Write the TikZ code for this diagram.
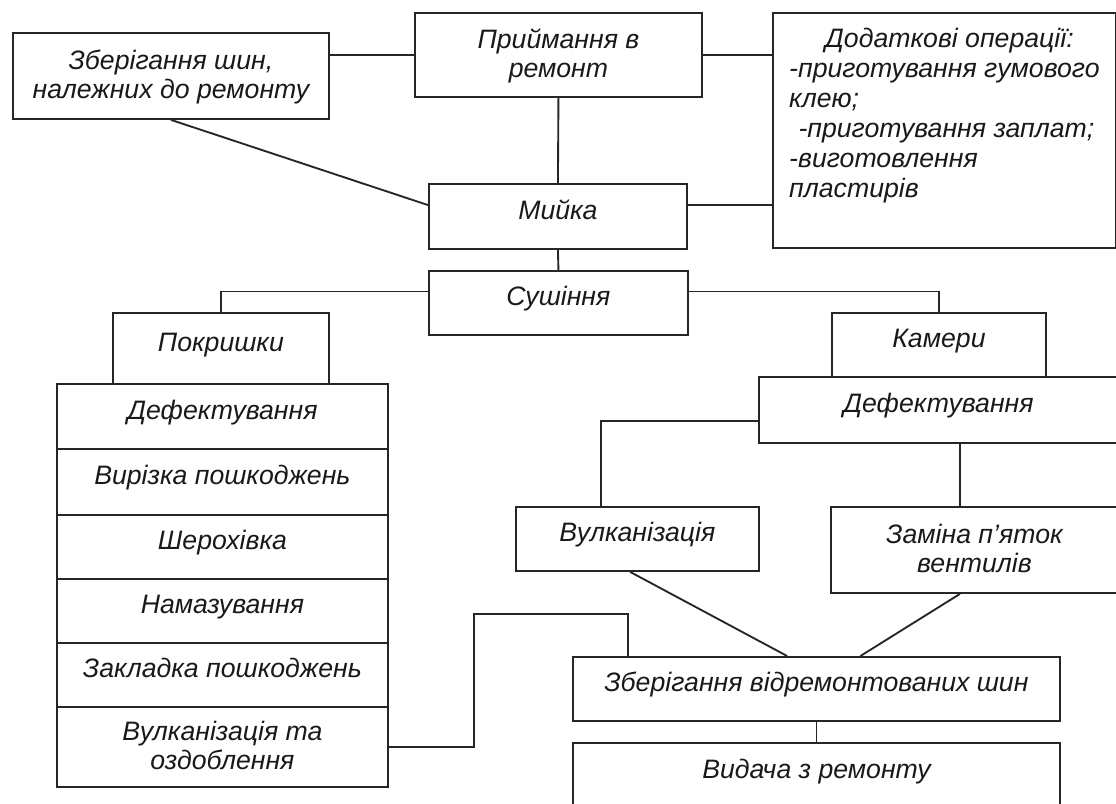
\documentclass[tikz,border=0pt]{standalone}
\usepackage{fontspec}
\setmainfont{Liberation Sans}
\usetikzlibrary{calc}

\begin{document}
\begin{tikzpicture}[x=0.75pt, y=-0.75pt,
    box/.style={draw=black!85, line width=1.4pt, inner sep=0pt, align=center, anchor=north west,
      text height=15pt, text depth=11pt, text=black!90,
      font=\itshape\fontsize{20}{21.5}\selectfont},
    boxsize/.style 2 args={minimum width=#1*0.75pt, minimum height=#2*0.75pt},
    two/.style={text height=36.5pt, text depth=3pt},
    link/.style={draw=black!85, line width=1.4pt}]
  \useasboundingbox (0,0) rectangle (1116,803);
  % reception, storage, extra work
  \node[box, two, boxsize={316}{86}] (keep) at (12,32) {Зберігання шин,\\належних до ремонту};
  \node[box, two, boxsize={287}{84}] (accept) at (414,12) {Приймання в\\ремонт};
  \node[box, boxsize={343}{235}, align=left, text height=127.5pt, text depth=26.7pt,
    font=\itshape\fontsize{20}{22.5}\selectfont] (extra) at (772,12)
    {\hspace*{27pt}Додаткові операції:\\-приготування гумового\\клею;\\\hspace*{7pt}-приготування заплат;\\-виготовлення\\пластирів};
  \node[box, boxsize={258}{65}] (wash) at (428,183) {Мийка};
  \node[box, boxsize={259}{64}] (dry) at (428,270) {Сушіння};
  % tyres column
  \node[box, boxsize={216}{71}] (tyres) at (112,312) {Покришки};
  \node[box, boxsize={331}{65}] (tyredef) at (56,383) {Дефектування};
  \node[box, boxsize={331}{66}] (cutout) at (56,448) {Вирізка пошкоджень};
  \node[box, boxsize={331}{64}] (rough) at (56,514) {Шерохівка};
  \node[box, boxsize={331}{64}] (coat) at (56,578) {Намазування};
  \node[box, boxsize={331}{64}] (patch) at (56,642) {Закладка пошкоджень};
  \node[box, two, boxsize={331}{80}] (cure) at (56,706) {Вулканізація та\\оздоблення};
  % tubes column
  \node[box, boxsize={214}{64}] (tubes) at (831,312) {Камери};
  \node[box, boxsize={359}{66}] (tubedef) at (758,376) {Дефектування};
  \node[box, boxsize={243}{64}] (tubecure) at (515,506) {Вулканізація};
  \node[box, two, boxsize={287}{86}] (valve) at (830,506) {Заміна п’яток\\вентилів};
  % finished tyres
  \node[box, boxsize={487}{64}] (store) at (572,656) {Зберігання відремонтованих шин};
  \node[box, boxsize={487}{66}] (issue) at (572,742) {Видача з ремонту};

  % links at the top
  \draw[link] (accept.west) -- (accept.west -| keep.east);
  \draw[link] (accept.east) -- (accept.east -| extra.west);
  \draw[link] (accept.south) -- (wash.north);
  \draw[link] (keep.south) -- (wash.175);
  \draw[link] (wash.5) -- (wash.5 -| extra.west);
  \draw[link] (wash.south) -- (dry.north);
  \draw[link] (dry.175) -| (tyres.north);
  \draw[link] (dry.5) -| (tubes.north);
  % tubes branches
  \coordinate (tubein) at ($(tubecure.north west)!0.35!(tubecure.north east)$);
  \coordinate (valvein) at ($(valve.north west)!0.45!(valve.north east)$);
  \draw[link] ($(tubedef.west)+(0,11)$) -| (tubein);
  \draw[link] (valvein |- tubedef.south) -- (valvein);
  % into storage
  \coordinate (storein) at ($(store.north west)!0.115!(store.north east)$);
  \draw[link] ($(tubecure.south west)!0.47!(tubecure.south east)$) -- ($(store.north west)!0.44!(store.north east)$);
  \draw[link] ($(valve.south west)!0.45!(valve.south east)$) -- ($(store.north west)!0.59!(store.north east)$);
  \draw[link] (cure.east) -- ++(85,0) |- ($(storein)+(0,-42)$) -- (storein);
  \draw[link] (store.south) -- (issue.north);
\end{tikzpicture}
\end{document}
